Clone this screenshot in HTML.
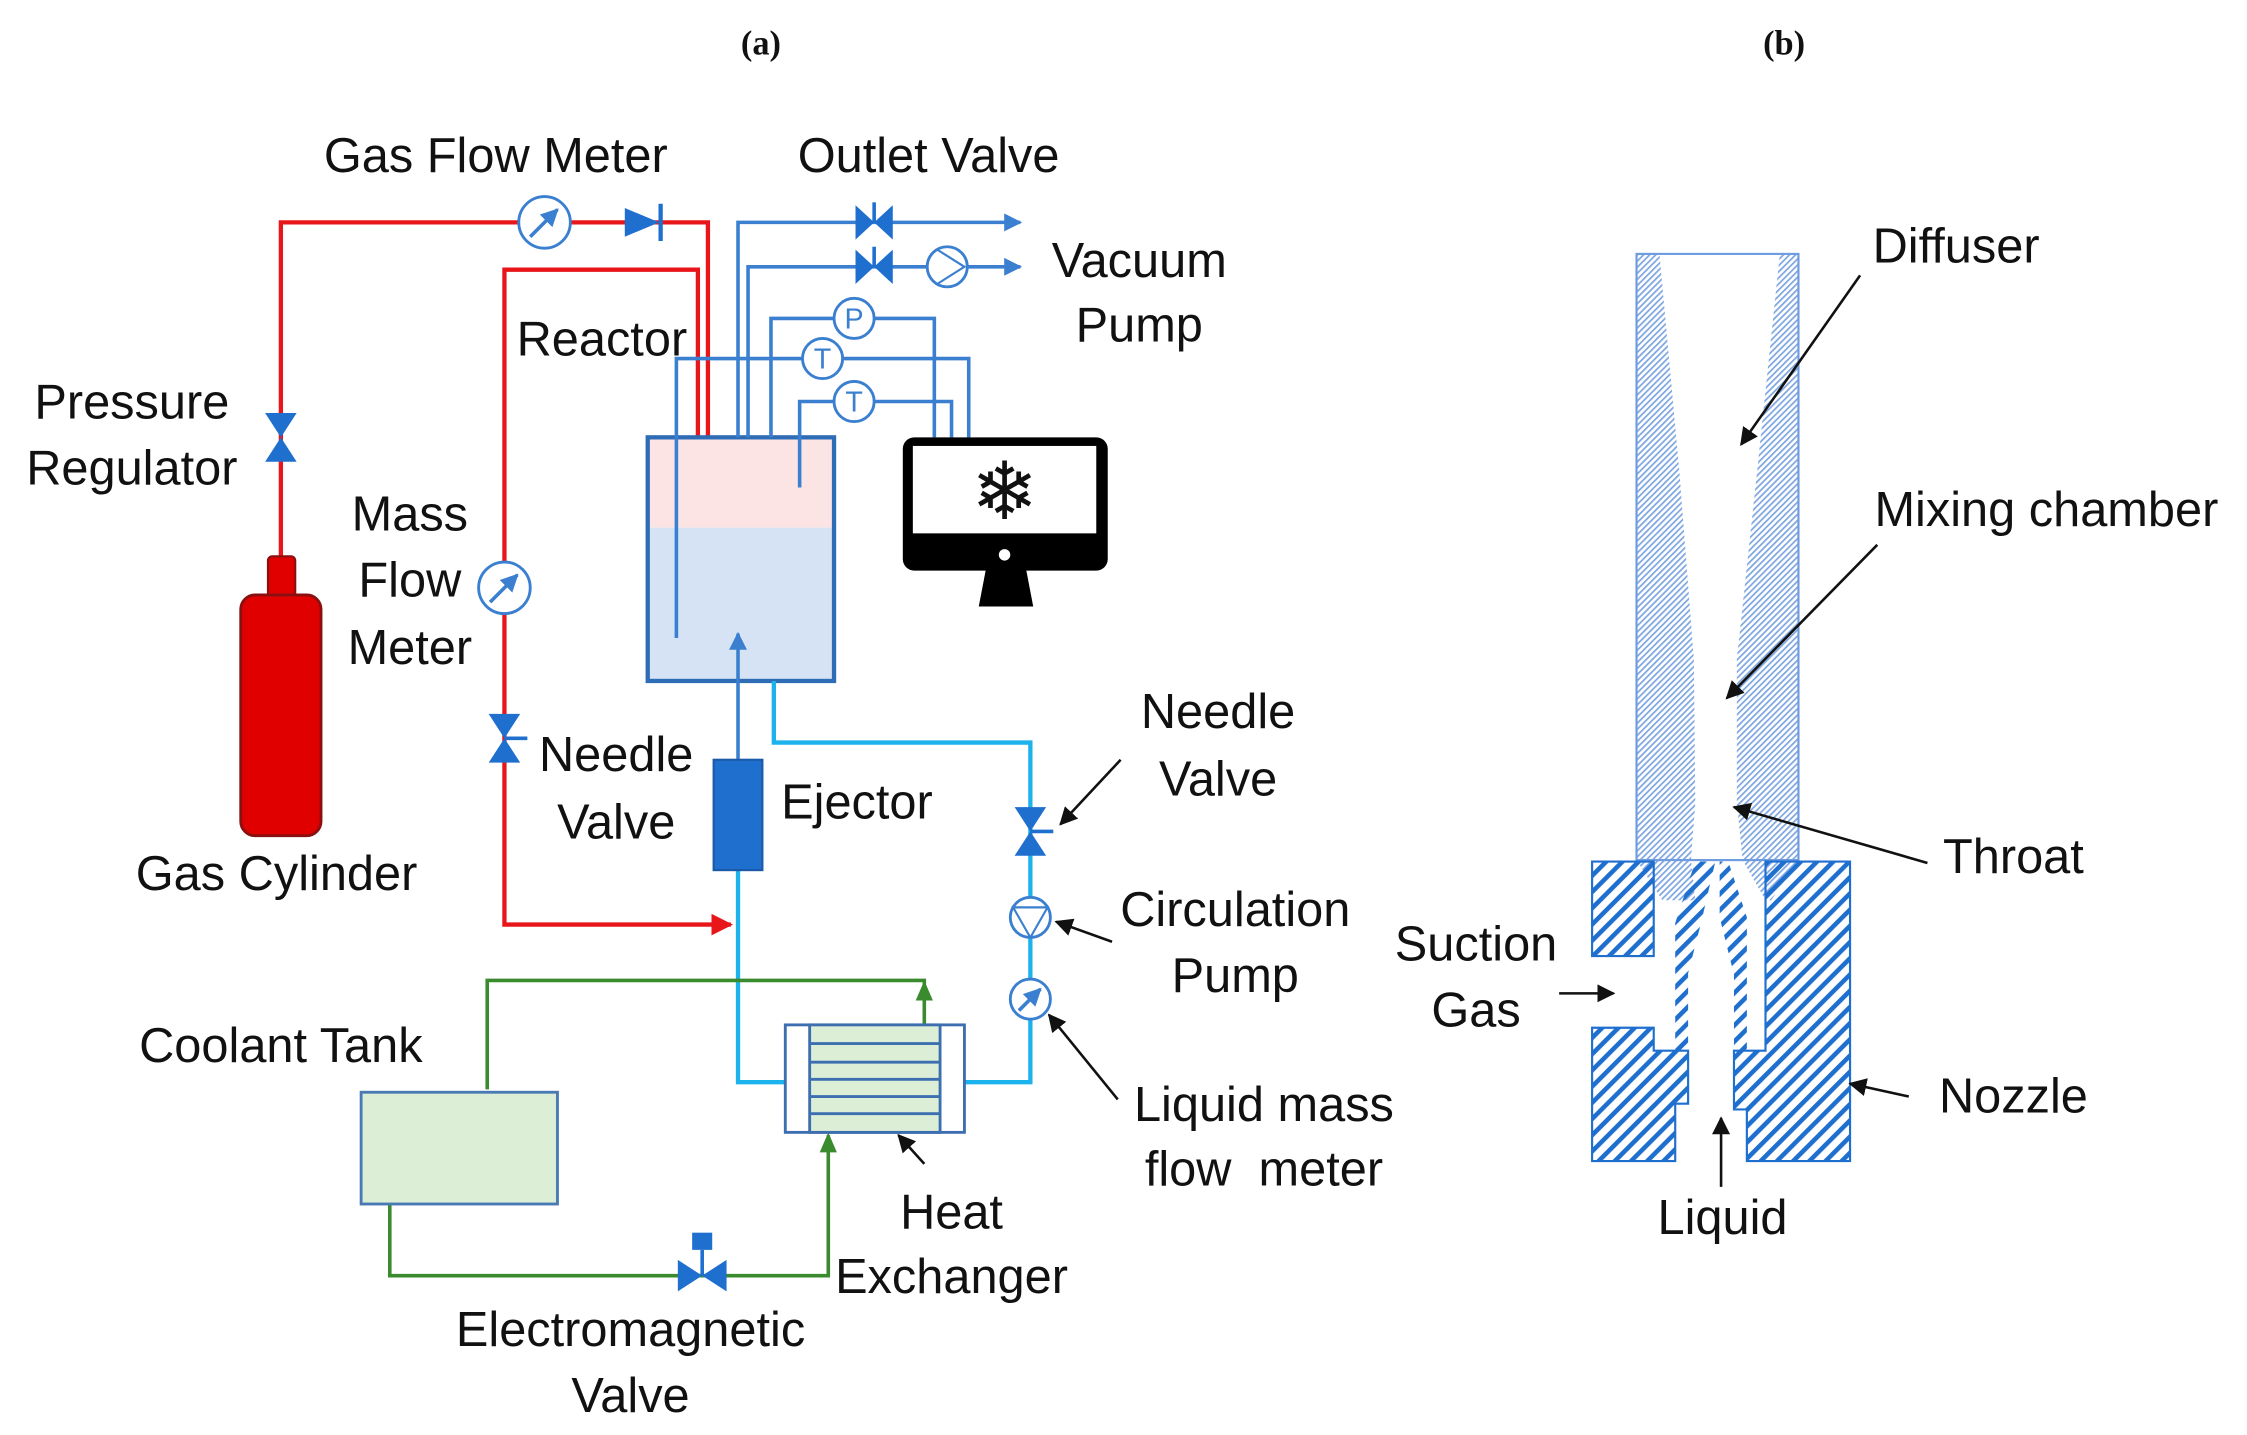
<!DOCTYPE html>
<html><head><meta charset="utf-8"><style>
html,body{margin:0;padding:0;background:#fff}
svg{display:block}
text{font-family:"Liberation Sans",sans-serif;font-size:34px;fill:#111}
</style></head><body>
<svg width="2247" height="1435" viewBox="0 0 1568 1001" xmlns="http://www.w3.org/2000/svg">
<defs>
<marker id="ab" viewBox="0 0 10 10" refX="9" refY="5" markerWidth="5" markerHeight="5" orient="auto"><path d="M0,0L10,5L0,10z" fill="#3a7fd0"/></marker>
<marker id="ar" viewBox="0 0 10 10" refX="9" refY="5" markerWidth="5" markerHeight="5" orient="auto"><path d="M0,0L10,5L0,10z" fill="#e8161b"/></marker>
<marker id="ak" viewBox="0 0 10 10" refX="9" refY="5" markerWidth="7" markerHeight="7" orient="auto"><path d="M0,0L10,5L0,10z" fill="#111"/></marker>
<pattern id="hN" width="8" height="8" patternUnits="userSpaceOnUse" patternTransform="rotate(-45)"><rect width="8" height="3.2" fill="#1f6fcf"/></pattern>
<pattern id="hD" width="3" height="3" patternUnits="userSpaceOnUse" patternTransform="rotate(-45)"><rect width="3" height="1.2" fill="#7ea6e0"/></pattern>
</defs>

<text x="531" y="38" text-anchor="middle" style="font-family:'Liberation Serif',serif;font-size:24px;font-weight:bold">(a)</text>
<text x="1245" y="38" text-anchor="middle" style="font-family:'Liberation Serif',serif;font-size:24px;font-weight:bold">(b)</text>

<g fill="none" stroke="#e8161b" stroke-width="3">
<polyline points="196,390 196,155 494,155 494,305"/>
<polyline points="487,305 487,188 352,188 352,645 510,645" marker-end="url(#ar)"/>
</g>
<circle cx="380" cy="155" r="18" fill="#fff" stroke="#3a7fd0" stroke-width="2"/>
<line x1="370" y1="165" x2="389" y2="146" stroke="#3a7fd0" stroke-width="2.5" marker-end="url(#ab)"/>
<path d="M436,145L460,155L436,165z" fill="#1f6fcf"/><line x1="461" y1="142" x2="461" y2="168" stroke="#1f6fcf" stroke-width="3"/>
<path d="M185,288L207,288L185,322L207,322z" fill="#1f6fcf"/>
<circle cx="352" cy="410" r="18" fill="#fff" stroke="#3a7fd0" stroke-width="2"/>
<line x1="342" y1="420" x2="361" y2="401" stroke="#3a7fd0" stroke-width="2.5" marker-end="url(#ab)"/>
<path d="M341,498L363,498L341,532L363,532z" fill="#1f6fcf"/><line x1="352" y1="515" x2="368" y2="515" stroke="#1f6fcf" stroke-width="2.5"/>
<rect x="187" y="388" width="19" height="30" rx="3" fill="#e00000" stroke="#8a1010" stroke-width="1.5"/>
<rect x="168" y="415" width="56" height="168" rx="10" fill="#e00000" stroke="#8a1010" stroke-width="2"/>

<rect x="452" y="305" width="130" height="63" fill="#fde4e4"/>
<rect x="452" y="368" width="130" height="107" fill="#d6e3f4"/>
<rect x="452" y="305" width="130" height="170" fill="none" stroke="#2e6db5" stroke-width="3"/>

<g fill="none" stroke="#3a7fd0" stroke-width="2.5">
<polyline points="515,305 515,155 712,155" marker-end="url(#ab)"/>
<polyline points="522,305 522,186 712,186" marker-end="url(#ab)"/>
<polyline points="538,305 538,222 652,222 652,305"/>
<polyline points="472,445 472,250 676,250 676,305"/>
<polyline points="558,340 558,280 664,280 664,305"/>
<polyline points="515,530 515,442" marker-end="url(#ab)"/>
</g>
<path d="M597,143L610,155L597,167z M623,143L610,155L623,167z" fill="#1f6fcf"/><line x1="610" y1="141" x2="610" y2="155" stroke="#1f6fcf" stroke-width="2.5"/>
<path d="M597,174L610,186L597,198z M623,174L610,186L623,198z" fill="#1f6fcf"/><line x1="610" y1="172" x2="610" y2="186" stroke="#1f6fcf" stroke-width="2.5"/>
<circle cx="661" cy="186" r="14" fill="#fff" stroke="#3a7fd0" stroke-width="2"/><path d="M654,174L673,186L654,198" fill="none" stroke="#3a7fd0" stroke-width="1.5"/>
<g fill="#fff" stroke="#3a7fd0" stroke-width="2">
<circle cx="596" cy="222" r="14"/><circle cx="574" cy="250" r="14"/><circle cx="596" cy="280" r="14"/>
</g>
<g text-anchor="middle"><text x="596" y="229" style="fill:#3a7fd0;font-size:20px">P</text><text x="574" y="257" style="fill:#3a7fd0;font-size:20px">T</text><text x="596" y="287" style="fill:#3a7fd0;font-size:20px">T</text></g>

<rect x="630" y="305" width="143" height="93" rx="8" fill="#000"/>
<rect x="637" y="311" width="128" height="61" fill="#fff"/>
<circle cx="701" cy="387" r="4" fill="#fff"/>
<path d="M688,397L716,397L721,423L683,423z" fill="#000"/>
<text x="701" y="362" text-anchor="middle" style="font-size:56px;font-family:'DejaVu Sans',sans-serif">❄</text>

<g fill="none" stroke="#1cb2ec" stroke-width="3">
<polyline points="540,475 540,518 719,518 719,755 673,755"/>
<polyline points="515,607 515,755 548,755"/>
</g>
<rect x="498" y="530" width="34" height="77" fill="#1f6fcf" stroke="#1a5aa8" stroke-width="1.5"/>
<path d="M708,563L730,563L708,597L730,597z" fill="#1f6fcf"/><line x1="719" y1="580" x2="735" y2="580" stroke="#1f6fcf" stroke-width="2.5"/>
<circle cx="719" cy="640" r="14" fill="#fff" stroke="#3a7fd0" stroke-width="2"/><path d="M707,633L731,633L719,654z" fill="none" stroke="#3a7fd0" stroke-width="1.5"/>
<circle cx="719" cy="697" r="14" fill="#fff" stroke="#3a7fd0" stroke-width="2"/><line x1="711" y1="705" x2="726" y2="690" stroke="#3a7fd0" stroke-width="2.5" marker-end="url(#ab)"/>

<g fill="none" stroke="#3a8a2e" stroke-width="2.5">
<polyline points="340,760 340,684 645,684 645,715"/>
<polyline points="272,840 272,890 578,890 578,792"/>
</g>
<path d="M639,698L645,684L651,698z" fill="#3a8a2e"/>
<path d="M572,804L578,790L584,804z" fill="#3a8a2e"/>
<rect x="548" y="715" width="125" height="75" fill="#fff" stroke="#3d6fb0" stroke-width="2"/>
<rect x="565" y="715" width="91" height="75" fill="#dcefd6" stroke="#3d6fb0" stroke-width="2"/>
<g stroke="#3d6fb0" stroke-width="2"><line x1="565" y1="728" x2="656" y2="728"/><line x1="565" y1="741" x2="656" y2="741"/><line x1="565" y1="753" x2="656" y2="753"/><line x1="565" y1="765" x2="656" y2="765"/><line x1="565" y1="777" x2="656" y2="777"/></g>
<rect x="252" y="762" width="137" height="78" fill="#dcefd6" stroke="#4a7ab5" stroke-width="2"/>
<path d="M473,879L490,890L473,901z M507,879L490,890L507,901z" fill="#1f6fcf"/>
<line x1="490" y1="872" x2="490" y2="890" stroke="#1f6fcf" stroke-width="2.5"/>
<rect x="483" y="860" width="14" height="12" fill="#1f6fcf"/>

<g stroke="#111" stroke-width="1.8" fill="none">
<line x1="782" y1="530" x2="740" y2="575" marker-end="url(#ak)"/>
<line x1="776" y1="657" x2="737" y2="643" marker-end="url(#ak)"/>
<line x1="780" y1="767" x2="732" y2="708" marker-end="url(#ak)"/>
<line x1="645" y1="812" x2="627" y2="792" marker-end="url(#ak)"/>
</g>

<g text-anchor="middle">
<text x="346" y="120">Gas Flow Meter</text>
<text x="648" y="120">Outlet Valve</text>
<text x="795" y="193">Vacuum</text>
<text x="795" y="238">Pump</text>
<text x="420" y="248">Reactor</text>
<text x="92" y="292">Pressure</text>
<text x="92" y="338">Regulator</text>
<text x="286" y="370">Mass</text>
<text x="286" y="416">Flow</text>
<text x="286" y="463">Meter</text>
<text x="430" y="538">Needle</text>
<text x="430" y="585">Valve</text>
<text x="598" y="571">Ejector</text>
<text x="193" y="621">Gas Cylinder</text>
<text x="850" y="508">Needle</text>
<text x="850" y="555">Valve</text>
<text x="862" y="646">Circulation</text>
<text x="862" y="692">Pump</text>
<text x="196" y="741">Coolant Tank</text>
<text x="882" y="782">Liquid mass</text>
<text x="882" y="827">flow &#160;meter</text>
<text x="664" y="857">Heat</text>
<text x="664" y="902">Exchanger</text>
<text x="440" y="939">Electromagnetic</text>
<text x="440" y="985">Valve</text>
</g>

<path d="M1142,177L1158,177L1172,330L1182,460L1183,560L1180,600L1183,628L1160,628L1142,600z" fill="url(#hD)"/>
<path d="M1255,177L1242,177L1226,330L1212,460L1212,560L1216,600L1232,628L1236,628L1255,600z" fill="url(#hD)"/>
<rect x="1142" y="177" width="113" height="423" fill="none" stroke="#6f9be0" stroke-width="1.5"/>
<path d="M1111,601L1154,601L1154,667L1111,667z" fill="url(#hN)" stroke="#1f6fcf" stroke-width="1.5"/>
<path d="M1111,717L1154,717L1154,733L1178,733L1178,770L1169,770L1169,810L1111,810z" fill="url(#hN)" stroke="#1f6fcf" stroke-width="1.5"/>
<path d="M1183,601L1197,601L1187,644L1178,679L1178,733L1169,733L1169,644z" fill="url(#hN)"/>
<path d="M1200,601L1206,601L1219,640L1219,733L1210,733L1210,680L1200,640z" fill="url(#hN)"/>
<path d="M1232,601L1291,601L1291,810L1219,810L1219,774L1210,774L1210,733L1232,733z" fill="url(#hN)" stroke="#1f6fcf" stroke-width="1.5"/>

<g stroke="#111" stroke-width="1.8" fill="none">
<line x1="1298" y1="192" x2="1215" y2="310" marker-end="url(#ak)"/>
<line x1="1310" y1="380" x2="1205" y2="487" marker-end="url(#ak)"/>
<line x1="1345" y1="602" x2="1210" y2="563" marker-end="url(#ak)"/>
<line x1="1332" y1="765" x2="1291" y2="756" marker-end="url(#ak)"/>
<line x1="1088" y1="693" x2="1126" y2="693" marker-end="url(#ak)"/>
<line x1="1201" y1="828" x2="1201" y2="780" marker-end="url(#ak)"/>
</g>
<g text-anchor="middle">
<text x="1365" y="183">Diffuser</text>
<text x="1428" y="367">Mixing chamber</text>
<text x="1405" y="609">Throat</text>
<text x="1405" y="776">Nozzle</text>
<text x="1030" y="670">Suction</text>
<text x="1030" y="716">Gas</text>
<text x="1202" y="861">Liquid</text>
</g>
</svg>
</body></html>
